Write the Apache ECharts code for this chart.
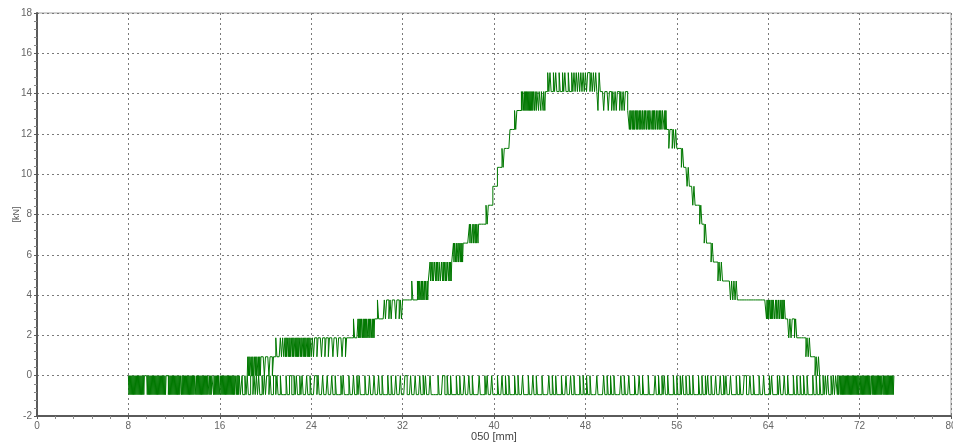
<!DOCTYPE html>
<html>
<head>
<meta charset="utf-8">
<script src="https://cdn.jsdelivr.net/npm/echarts@6/dist/echarts.min.js"></script>
<style>
  html, body { margin: 0; padding: 0; background: #ffffff; }
  #chart { width: 953px; height: 445px; }
</style>
</head>
<body>
<div id="chart"></div>
<script>
// Axis ticks
const xTicks = [0, 8, 16, 24, 32, 40, 48, 56, 64, 72, 80];
const yTicks = [-2, 0, 2, 4, 6, 8, 10, 12, 14, 16, 18];

// Quantised force levels of the load cell, kN (index 0 .. 17)
const levels = [-0.94, 0, 0.94, 1.88, 2.82, 3.76, 4.7, 5.64, 6.58, 7.52,
                8.46, 9.4, 10.34, 11.28, 12.22, 13.16, 14.1, 15.04];

// Load trace: [start mm, base level index, per-sample offsets above base, sample step mm]
const loadSegments = [
  [18.4, 1, "0101011010" + "1001010110" + "101011", 0.05],
  [19.7, 1, "11011101101", 0.1],
  [20.8, 1, "121112121", 0.1],
  [21.7, 2, "1010110101" + "0010101101" + "0101011010" + "1101010110" + "101011", 0.05],
  [24.0, 2, "0101101110" + "1101101110" + "1110111011" + "0111", 0.1],
  [27.4, 3, "0001000", 0.1],
  [28.1, 3, "1010101101" + "0101010010" + "1011010101" + "11", 0.05],
  [29.7, 4, "0100000", 0.1],
  [30.4, 4, "101101011101101011", 0.1],
  [32.2, 5, "00000010000", 0.1],
  [33.3, 5, "1010110101" + "0010110101" + "11", 0.05],
  [34.4, 6, "1011010011" + "0101101100" + "1101011010" + "0110101011", 0.05],
  [36.4, 7, "0101101001" + "0110101011" + "11", 0.05],
  [37.5, 8, "000", 0.1],
  [37.8, 8, "0101100101" + "1010110111", 0.05],
  [38.8, 9, "0000", 0.1],
  [39.2, 9, "01011", 0.1],
  [39.7, 10, "00111", 0.1],
  [40.2, 11, "0111", 0.1],
  [40.6, 12, "010111", 0.1],
  [41.2, 13, "00111", 0.1],
  [41.7, 14, "010111", 0.1],
  [42.3, 15, "0010110101" + "0101010101" + "0101101101" + "1101110111" + "011011", 0.05],
  [44.6, 15, "1212112121" + "1211212112" + "1121212121" + "2121212212" + "12121021", 0.1],
  [49.4, 15, "110111011010101101010110", 0.1],
  [51.8, 14, "1010110101" + "0010101101" + "0110100101" + "1011010110" + "0101011011" +
             "0110101101" + "110101", 0.05],
  [55.1, 13, "11011010100", 0.1],
  [56.2, 12, "11010", 0.1],
  [56.7, 11, "11010", 0.1],
  [57.2, 10, "110100", 0.1],
  [57.8, 9, "11010", 0.1],
  [58.3, 8, "10100", 0.1],
  [58.8, 7, "110100", 0.1],
  [59.4, 6, "11010100", 0.1],
  [60.2, 5, "1111101010100", 0.1],
  [61.5, 5, "00000000000000000000000", 0.1],
  [63.8, 4, "1010101101" + "0101100101" + "1011011010" + "101100", 0.05],
  [65.6, 3, "11010110100", 0.1],
  [66.7, 3, "0000", 0.1],
  [67.1, 2, "11010100", 0.1],
  [67.9, 1, "11010100", 0.1]
];

// Zero channel: toggles between level 0 (-0.94) and level 1 (0).
// One row per millimetre starting at 8 mm; samples are spread evenly over the row.
const zeroFirstMm = 8;
const zeroRows = [
  "10101010101010101010", // 8
  "10101010111110101010", // 9
  "10101010101010101010", // 10
  "10101011110101010101", // 11
  "01010101010110101010", // 12
  "10101010101010101101", // 13
  "01010101010101010101", // 14
  "10101011101010101010", // 15
  "01010101010101010101", // 16
  "01010101101010110001", // 17
  "0010100110", "1010100101", "0110100110", "1001000010", "0110010100", // 18-22
  "1010001001", "0001101000", "1000100010", "0100001010", "0001000100", // 23-27
  "1010000100", "0100010001", "0010000100", "1000100010", "0011000100", // 28-32
  "0100010010", "1000100000", "0100011001", "0010000100", "1000100010", // 33-37
  "0100000100", "0010100010", "0001000100", "1001000010", "0100010000", // 38-42
  "1000100100", "0010000010", "0100100001", "0001000100", "1000010010", // 43-47
  "0100100000", "1000001001", "0010010000", "0100100010", "0001000100", // 48-52
  "1000010000", "0100100101", "0010000100", "1001010010", "0100100001", // 53-57
  "0010010100", "1000100010", "0101000100", "0010010001", "1000100100", // 58-62
  "0010001000", "0101000010", "1000100100", "0010010010", "0100100001", // 63-67
  "0010010010", "1010010101",                                           // 68-69
  "10100101010101010101", // 70
  "01010101010101010101", // 71
  "10101010101010101010", // 72
  "01010101010101010101", // 73
  "10101010101010101010", // 74
  "1"                     // 75
];

function round2(v) { return Math.round(v * 100) / 100; }

const loadData = [];
loadSegments.forEach(([x0, base, pattern, step]) => {
  for (let i = 0; i < pattern.length; i++) {
    loadData.push([round2(x0 + i * step), levels[base + Number(pattern[i])]]);
  }
});

const zeroData = [];
zeroRows.forEach((row, r) => {
  const step = 1 / row.length;
  for (let i = 0; i < row.length; i++) {
    zeroData.push([round2(zeroFirstMm + r + i * step), levels[Number(row[i])]]);
  }
});

const traceColor = '#007800';
const axisColor = '#5a5a5a';
const gridColor = '#7a7a7a';

const chart = echarts.init(document.getElementById('chart'), null, { renderer: 'canvas' });
chart.setOption({
  animation: false,
  backgroundColor: '#ffffff',
  grid: {
    left: 37, right: 2, top: 13, bottom: 29,
    outerBoundsMode: 'none', containLabel: false,
    show: true, borderColor: '#a0a0a0', borderWidth: 1
  },
  xAxis: {
    type: 'value',
    min: xTicks[0], max: xTicks[xTicks.length - 1], interval: xTicks[1] - xTicks[0],
    name: '050 [mm]', nameLocation: 'middle', nameGap: 15, nameMoveOverlap: false,
    nameTextStyle: { fontFamily: 'Liberation Sans', fontSize: 11, color: '#444' },
    axisLine: { show: true, onZero: false, lineStyle: { color: axisColor, width: 2 } },
    axisTick: { show: true, length: 3, lineStyle: { color: axisColor } },
    minorTick: { show: true, splitNumber: 5, length: 3, lineStyle: { color: '#888' } },
    axisLabel: { fontFamily: 'Liberation Sans', fontSize: 10, color: '#666', margin: 5 },
    splitLine: { show: true, lineStyle: { color: gridColor, type: [2, 3], width: 1 } }
  },
  yAxis: {
    type: 'value',
    min: yTicks[0], max: yTicks[yTicks.length - 1], interval: yTicks[1] - yTicks[0],
    name: '[kN]', nameLocation: 'middle', nameGap: 16, nameMoveOverlap: false,
    nameTextStyle: { fontFamily: 'Liberation Sans', fontSize: 9, color: '#555' },
    axisLine: { show: true, onZero: false, lineStyle: { color: axisColor, width: 2 } },
    axisTick: { show: true, length: 3, lineStyle: { color: axisColor } },
    minorTick: { show: true, splitNumber: 5, length: 3, lineStyle: { color: '#888' } },
    axisLabel: { fontFamily: 'Liberation Sans', fontSize: 10, color: '#666', margin: 5 },
    splitLine: { show: true, lineStyle: { color: gridColor, type: [2, 3], width: 1 } }
  },
  series: [
    {
      name: 'zero', type: 'line', step: 'end', showSymbol: false, symbol: 'none',
      data: zeroData, lineStyle: { color: traceColor, width: 1 }, silent: true
    },
    {
      name: 'load', type: 'line', step: 'end', showSymbol: false, symbol: 'none',
      data: loadData, lineStyle: { color: traceColor, width: 1 }, silent: true
    }
  ]
});
</script>
</body>
</html>
